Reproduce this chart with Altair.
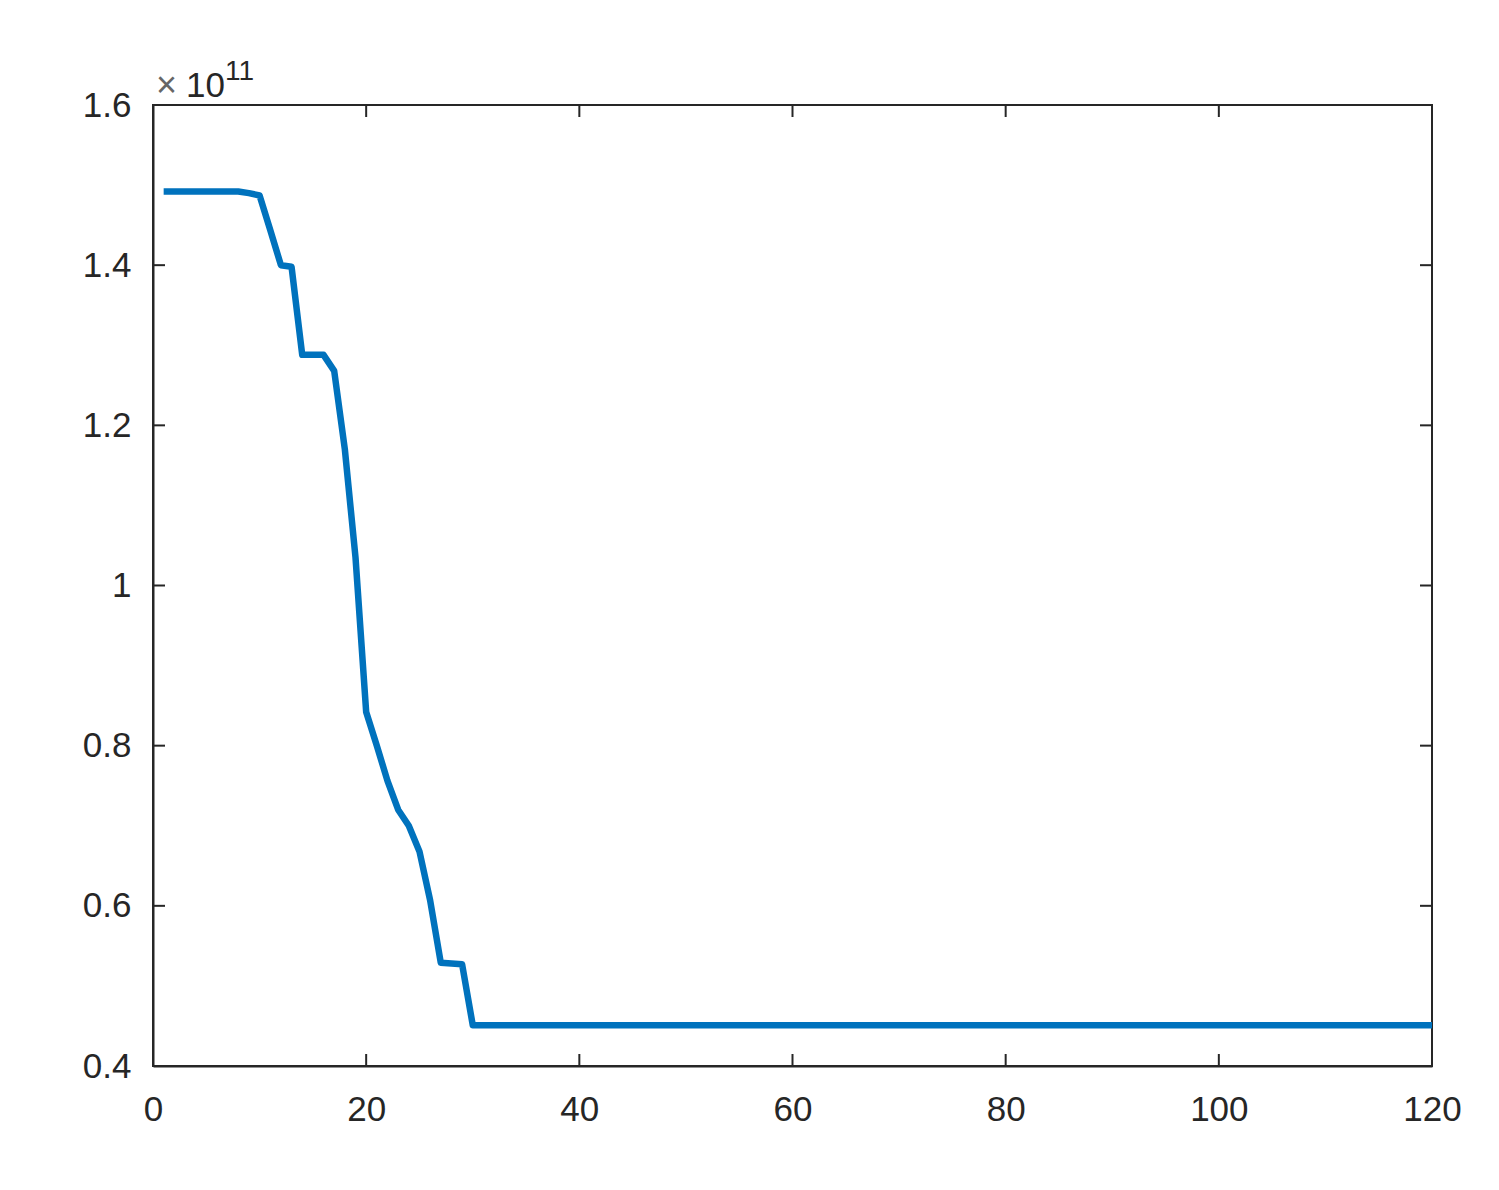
import altair as alt
import pandas as pd

# iteration index
iterations = list(range(1, 121))
# objective value, in units of 1e11
cost_e11 = [
    1.492, 1.492, 1.492, 1.492, 1.492, 1.492, 1.492, 1.492, 1.490, 1.487,
    1.444, 1.400, 1.398, 1.288, 1.288, 1.288, 1.268, 1.170, 1.035, 0.842,
    0.800, 0.756, 0.720, 0.700, 0.668, 0.607, 0.529, 0.528, 0.527, 0.451,
    0.451, 0.451, 0.451, 0.451, 0.451, 0.451, 0.451, 0.451, 0.451, 0.451,
    0.451, 0.451, 0.451, 0.451, 0.451, 0.451, 0.451, 0.451, 0.451, 0.451,
    0.451, 0.451, 0.451, 0.451, 0.451, 0.451, 0.451, 0.451, 0.451, 0.451,
    0.451, 0.451, 0.451, 0.451, 0.451, 0.451, 0.451, 0.451, 0.451, 0.451,
    0.451, 0.451, 0.451, 0.451, 0.451, 0.451, 0.451, 0.451, 0.451, 0.451,
    0.451, 0.451, 0.451, 0.451, 0.451, 0.451, 0.451, 0.451, 0.451, 0.451,
    0.451, 0.451, 0.451, 0.451, 0.451, 0.451, 0.451, 0.451, 0.451, 0.451,
    0.451, 0.451, 0.451, 0.451, 0.451, 0.451, 0.451, 0.451, 0.451, 0.451,
    0.451, 0.451, 0.451, 0.451, 0.451, 0.451, 0.451, 0.451, 0.451, 0.451,
]
x_ticks = [0, 20, 40, 60, 80, 100, 120]
y_ticks = [0.4, 0.6, 0.8, 1.0, 1.2, 1.4, 1.6]

W, H = 1279, 961
TICK = 12
FONT = "Liberation Sans"
INK = "#262626"
FS = 35

df = pd.DataFrame({"iter": iterations, "cost": cost_e11})
xt = pd.DataFrame({"xv": x_ticks})
yt = pd.DataFrame({"yv": y_ticks})

xscale = alt.Scale(domain=[0, 120], nice=False, zero=False)
yscale = alt.Scale(domain=[0.4, 1.6], nice=False, zero=False)

line = alt.Chart(df).mark_line(
    color="#0072BD", strokeWidth=6.5, strokeJoin="round", strokeCap="butt"
).encode(
    x=alt.X("iter:Q", scale=xscale, axis=alt.Axis(
        values=x_ticks, title=None, ticks=False, grid=False,
        labelFontSize=FS, labelFont=FONT, labelColor=INK, labelPadding=26,
        domainColor=INK, domainWidth=2, labelFlush=False)),
    y=alt.Y("cost:Q", scale=yscale, axis=alt.Axis(
        values=y_ticks, title=None, ticks=False, grid=False, format="~g",
        labelFontSize=FS, labelFont=FONT, labelColor=INK, labelPadding=22,
        domainColor=INK, domainWidth=2, labelFlush=False)),
)

xt_bottom = alt.Chart(xt).mark_rule(color=INK, strokeWidth=2).encode(
    x=alt.X("xv:Q", scale=xscale), y=alt.value(H), y2=alt.value(H - TICK))
xt_top = alt.Chart(xt).mark_rule(color=INK, strokeWidth=2).encode(
    x=alt.X("xv:Q", scale=xscale), y=alt.value(0), y2=alt.value(TICK))
yt_left = alt.Chart(yt).mark_rule(color=INK, strokeWidth=2).encode(
    y=alt.Y("yv:Q", scale=yscale), x=alt.value(0), x2=alt.value(TICK))
yt_right = alt.Chart(yt).mark_rule(color=INK, strokeWidth=2).encode(
    y=alt.Y("yv:Q", scale=yscale), x=alt.value(W), x2=alt.value(W - TICK))

exp_df = pd.DataFrame({"t": ["x"]})
times = alt.Chart(exp_df).mark_text(
    text="\u00d7", font=FONT, fontSize=36, color="#666666", align="left", baseline="alphabetic"
).encode(x=alt.value(3), y=alt.value(-8))
ten = alt.Chart(exp_df).mark_text(
    text="10", font=FONT, fontSize=FS, color=INK, align="left", baseline="alphabetic"
).encode(x=alt.value(33), y=alt.value(-8))
eleven = alt.Chart(exp_df).mark_text(
    text="11", font=FONT, fontSize=28, color=INK, align="left", baseline="alphabetic"
).encode(x=alt.value(72), y=alt.value(-25))

chart = alt.layer(
    line, xt_bottom, xt_top, yt_left, yt_right, times, ten, eleven
).properties(
    width=W, height=H,
    autosize=alt.AutoSizeParams(type="none"),
    padding={"left": 145, "top": 97, "right": 50, "bottom": 90},
    background="white",
).configure_view(stroke=INK, strokeWidth=2)

chart.save("out.html", embed_options={"renderer": "svg", "actions": False})
